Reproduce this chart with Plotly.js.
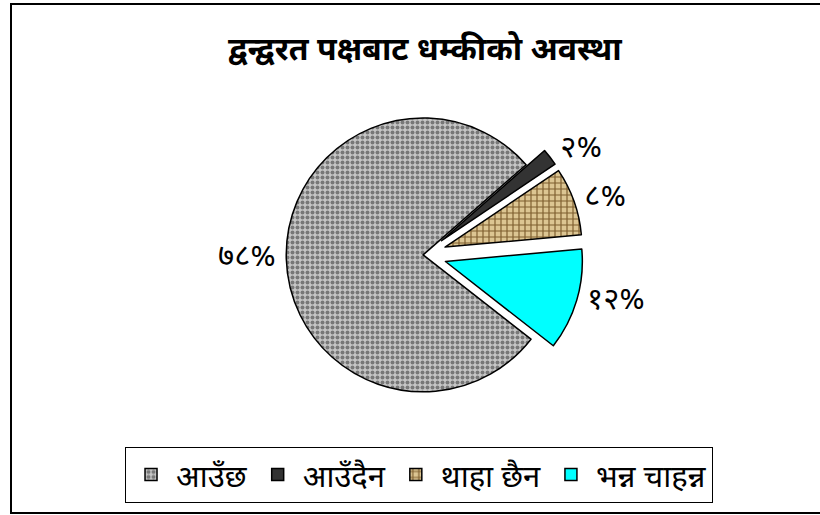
<!DOCTYPE html>
<html>
<head>
<meta charset="utf-8">
<script src="https://cdn.plot.ly/plotly-3.0.1.min.js"></script>
<style>html,body{margin:0;padding:0;background:#fff;}#chart{width:820px;height:515px;}</style>
</head>
<body>
<div id="chart"></div>
<script>
const categories = ['आउँछ', 'आउँदैन', 'थाहा छैन', 'भन्न चाहन्न'];
const values = [78, 2, 8, 12];
const textLabels = ['७८%', '२%', '८%', '१२%'];
const pulls = [0, 0.17, 0.17, 0.17];

const devFont = "'Noto Sans Devanagari', 'Noto Sans', 'Lohit Devanagari', 'FreeSans', sans-serif";

const trace = {
  type: 'pie',
  labels: categories,
  values: values,
  text: textLabels,
  textinfo: 'text',
  textposition: 'outside',
  sort: false,
  direction: 'clockwise',
  rotation: 128,
  pull: pulls,
  hoverinfo: 'label+percent',
  outsidetextfont: {family: devFont, size: 31, color: '#000'},
  marker: {
    colors: ['#bcbcbc', '#333333', '#d6bd86', '#00ffff'],
    line: {color: '#000', width: 1.5},
    pattern: {
      shape: ['.', '', '+', ''],
      fgcolor: ['#787878', '#333333', '#7d5d2e', '#00ffff'],
      bgcolor: ['#c6c6c6', '#333333', '#dcc592', '#00ffff'],
      size: [5, 6, 6, 6],
      solidity: [0.5, 0.3, 0.35, 0.3]
    }
  },
  domain: {x: [0.32, 0.712], y: [0.194, 0.816]}
};

const layout = {
  width: 820,
  height: 515,
  margin: {l: 0, r: 0, t: 0, b: 0},
  paper_bgcolor: '#fff',
  title: {
    text: '<b>द्वन्द्वरत पक्षबाट धम्कीको अवस्था</b>',
    font: {family: devFont, size: 32, color: '#000'},
    x: 0.518, xanchor: 'center',
    y: 0.905, yanchor: 'middle'
  },
  showlegend: true,
  legend: {
    orientation: 'h',
    x: 0.511, xanchor: 'center',
    y: 0.078, yanchor: 'middle',
    bordercolor: '#000',
    borderwidth: 1,
    bgcolor: '#fff',
    itemwidth: 40,
    font: {family: devFont, size: 31, color: '#000'},
    traceorder: 'normal'
  },
  shapes: [
    {type: 'rect', xref: 'paper', yref: 'paper',
     x0: 11/820, x1: 1.01, y0: 1 - 513/515, y1: 1 - 4/515,
     line: {color: '#000', width: 2}, fillcolor: 'rgba(0,0,0,0)'}
  ]
};

Plotly.newPlot('chart', [trace], layout, {displayModeBar: false, staticPlot: true});
</script>
</body>
</html>
